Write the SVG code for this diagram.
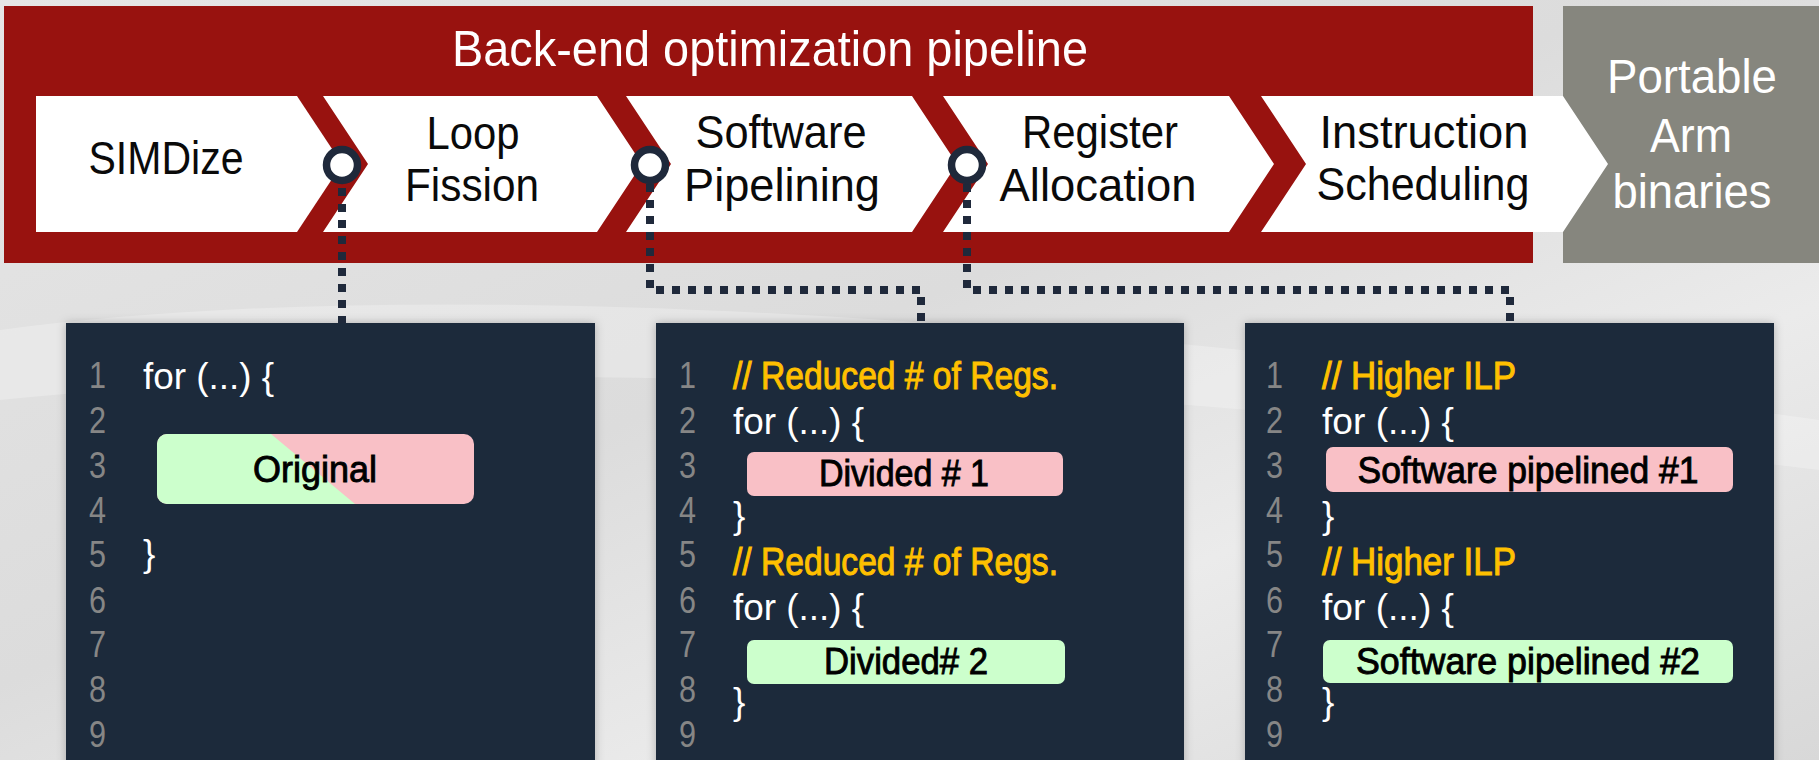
<svg xmlns="http://www.w3.org/2000/svg" width="1819" height="760" viewBox="0 0 1819 760">
<defs>
<linearGradient id="bg" x1="0" y1="0" x2="1" y2="1">
<stop offset="0" stop-color="#e6e6e6"/>
<stop offset="0.45" stop-color="#dcdcdc"/>
<stop offset="0.7" stop-color="#ebebeb"/>
<stop offset="1" stop-color="#d8d8d8"/>
</linearGradient>
<clipPath id="origclip">
<rect x="157" y="434" width="317" height="70" rx="10"/>
</clipPath>
<filter id="sh" x="-5%" y="-5%" width="110%" height="110%">
<feDropShadow dx="0" dy="0" stdDeviation="5" flood-color="#000" flood-opacity="0.25"/>
</filter>
<style>
.chev{fill:#ffffff}
.lbl{font-family:"Liberation Sans",Arial,sans-serif;font-size:46px;fill:#0a0a0a;text-anchor:middle}
.wt{font-family:"Liberation Sans",Arial,sans-serif;fill:#ffffff;text-anchor:middle}
.box{fill:#1f293b;filter:url(#sh)}
.num{font-family:"Liberation Sans",Arial,sans-serif;font-size:37px;fill:#868686}
.code{font-family:"Liberation Sans",Arial,sans-serif;font-size:37px;fill:#ffffff}
.cmt{font-family:"Liberation Sans",Arial,sans-serif;font-size:38px;fill:#ffc000;stroke:#ffc000;stroke-width:1}
.blk{font-family:"Liberation Sans",Arial,sans-serif;font-size:36px;fill:#000000;stroke:#000000;stroke-width:0.9;text-anchor:middle}
.dot{fill:none;stroke:#1f293b;stroke-width:8;stroke-dasharray:8 8}
.ring{fill:#ffffff;stroke:#1f293b;stroke-width:7.5}
</style>
</defs>
<rect x="0" y="0" width="1819" height="760" fill="url(#bg)"/>
<path d="M0 330 Q600 250 1819 420 L1819 470 Q700 330 0 400 Z" fill="#ffffff" opacity="0.25"/>

<g id="pipeline">
<rect x="4" y="6" width="1529" height="257" fill="#98120f"/>
<text class="wt" x="770" y="66" font-size="50" textLength="636" lengthAdjust="spacingAndGlyphs">Back-end optimization pipeline</text>
</g>
<g id="portable">
<rect x="1563" y="6" width="256" height="257" fill="#86867e"/>
</g>

<g id="simdize">
<polygon class="chev" points="36,96 297,96 342,164 297,232 36,232"/>
<text class="lbl" x="166" y="174" textLength="155" lengthAdjust="spacingAndGlyphs">SIMDize</text>
</g>
<g id="loop-fission">
<polygon class="chev" points="323,96 597,96 642,164 597,232 323,232 368,164"/>
<text class="lbl" x="473" y="149" textLength="93" lengthAdjust="spacingAndGlyphs">Loop</text>
<text class="lbl" x="472" y="201" textLength="134" lengthAdjust="spacingAndGlyphs">Fission</text>
</g>
<g id="software-pipelining">
<polygon class="chev" points="626,96 912,96 957,164 912,232 626,232 671,164"/>
<text class="lbl" x="781" y="148" textLength="171" lengthAdjust="spacingAndGlyphs">Software</text>
<text class="lbl" x="782" y="201" textLength="196" lengthAdjust="spacingAndGlyphs">Pipelining</text>
</g>
<g id="register-allocation">
<polygon class="chev" points="943,96 1229,96 1274,164 1229,232 943,232 988,164"/>
<text class="lbl" x="1100" y="148" textLength="156" lengthAdjust="spacingAndGlyphs">Register</text>
<text class="lbl" x="1098" y="201" textLength="197" lengthAdjust="spacingAndGlyphs">Allocation</text>
</g>
<g id="instruction-scheduling">
<polygon class="chev" points="1261,96 1563,96 1608,164 1563,232 1261,232 1306,164"/>
<text class="lbl" x="1424" y="148" textLength="209" lengthAdjust="spacingAndGlyphs">Instruction</text>
<text class="lbl" x="1423" y="200" textLength="213" lengthAdjust="spacingAndGlyphs">Scheduling</text>
</g>
<g id="portable-label">
<text class="wt" x="1692" y="93" font-size="48" textLength="170" lengthAdjust="spacingAndGlyphs">Portable</text>
<text class="wt" x="1691" y="152" font-size="48" textLength="82" lengthAdjust="spacingAndGlyphs">Arm</text>
<text class="wt" x="1692" y="208" font-size="48" textLength="159" lengthAdjust="spacingAndGlyphs">binaries</text>
</g>

<g id="code-original">
<rect class="box" x="66" y="323" width="529" height="450"/>
<g class="num">
<text x="89" y="388" textLength="17" lengthAdjust="spacingAndGlyphs">1</text>
<text x="89" y="433" textLength="17" lengthAdjust="spacingAndGlyphs">2</text>
<text x="89" y="478" textLength="17" lengthAdjust="spacingAndGlyphs">3</text>
<text x="89" y="523" textLength="17" lengthAdjust="spacingAndGlyphs">4</text>
<text x="89" y="567" textLength="17" lengthAdjust="spacingAndGlyphs">5</text>
<text x="89" y="613" textLength="17" lengthAdjust="spacingAndGlyphs">6</text>
<text x="89" y="657" textLength="17" lengthAdjust="spacingAndGlyphs">7</text>
<text x="89" y="702" textLength="17" lengthAdjust="spacingAndGlyphs">8</text>
<text x="89" y="747" textLength="17" lengthAdjust="spacingAndGlyphs">9</text>
</g>
<text class="code" x="143" y="389" textLength="131" lengthAdjust="spacingAndGlyphs">for (...) {</text>
<g clip-path="url(#origclip)">
<rect x="157" y="434" width="317" height="70" fill="#f9c0c6"/>
<polygon points="157,434 271,434 355,504 157,504" fill="#ccffcc"/>
</g>
<text class="blk" x="315" y="482" textLength="124" lengthAdjust="spacingAndGlyphs">Original</text>
<text class="code" x="143" y="566">}</text>
</g>

<g id="code-fission">
<rect class="box" x="656" y="323" width="528" height="450"/>
<g class="num">
<text x="679" y="388" textLength="17" lengthAdjust="spacingAndGlyphs">1</text>
<text x="679" y="433" textLength="17" lengthAdjust="spacingAndGlyphs">2</text>
<text x="679" y="478" textLength="17" lengthAdjust="spacingAndGlyphs">3</text>
<text x="679" y="523" textLength="17" lengthAdjust="spacingAndGlyphs">4</text>
<text x="679" y="567" textLength="17" lengthAdjust="spacingAndGlyphs">5</text>
<text x="679" y="613" textLength="17" lengthAdjust="spacingAndGlyphs">6</text>
<text x="679" y="657" textLength="17" lengthAdjust="spacingAndGlyphs">7</text>
<text x="679" y="702" textLength="17" lengthAdjust="spacingAndGlyphs">8</text>
<text x="679" y="747" textLength="17" lengthAdjust="spacingAndGlyphs">9</text>
</g>
<text class="cmt" x="733" y="389" textLength="325" lengthAdjust="spacingAndGlyphs">// Reduced # of Regs.</text>
<text class="code" x="733" y="434" textLength="131" lengthAdjust="spacingAndGlyphs">for (...) {</text>
<rect x="747" y="452" width="316" height="44" rx="7" fill="#f9c0c6"/>
<text class="blk" x="904" y="486" textLength="170" lengthAdjust="spacingAndGlyphs">Divided # 1</text>
<text class="code" x="733" y="528">}</text>
<text class="cmt" x="733" y="575" textLength="325" lengthAdjust="spacingAndGlyphs">// Reduced # of Regs.</text>
<text class="code" x="733" y="620" textLength="131" lengthAdjust="spacingAndGlyphs">for (...) {</text>
<rect x="747" y="640" width="318" height="44" rx="7" fill="#ccffcc"/>
<text class="blk" x="906" y="674" textLength="164" lengthAdjust="spacingAndGlyphs">Divided# 2</text>
<text class="code" x="733" y="714">}</text>
</g>

<g id="code-swp">
<rect class="box" x="1245" y="323" width="529" height="450"/>
<g class="num">
<text x="1266" y="388" textLength="17" lengthAdjust="spacingAndGlyphs">1</text>
<text x="1266" y="433" textLength="17" lengthAdjust="spacingAndGlyphs">2</text>
<text x="1266" y="478" textLength="17" lengthAdjust="spacingAndGlyphs">3</text>
<text x="1266" y="523" textLength="17" lengthAdjust="spacingAndGlyphs">4</text>
<text x="1266" y="567" textLength="17" lengthAdjust="spacingAndGlyphs">5</text>
<text x="1266" y="613" textLength="17" lengthAdjust="spacingAndGlyphs">6</text>
<text x="1266" y="657" textLength="17" lengthAdjust="spacingAndGlyphs">7</text>
<text x="1266" y="702" textLength="17" lengthAdjust="spacingAndGlyphs">8</text>
<text x="1266" y="747" textLength="17" lengthAdjust="spacingAndGlyphs">9</text>
</g>
<text class="cmt" x="1322" y="389" textLength="194" lengthAdjust="spacingAndGlyphs">// Higher ILP</text>
<text class="code" x="1322" y="434" textLength="132" lengthAdjust="spacingAndGlyphs">for (...) {</text>
<rect x="1326" y="447" width="407" height="45" rx="7" fill="#f9c0c6"/>
<text class="blk" x="1528" y="483" textLength="341" lengthAdjust="spacingAndGlyphs">Software pipelined #1</text>
<text class="code" x="1322" y="528">}</text>
<text class="cmt" x="1322" y="575" textLength="194" lengthAdjust="spacingAndGlyphs">// Higher ILP</text>
<text class="code" x="1322" y="620" textLength="132" lengthAdjust="spacingAndGlyphs">for (...) {</text>
<rect x="1323" y="640" width="410" height="43" rx="7" fill="#ccffcc"/>
<text class="blk" x="1528" y="674" textLength="344" lengthAdjust="spacingAndGlyphs">Software pipelined #2</text>
<text class="code" x="1322" y="714">}</text>
</g>

<g id="connectors">
<path class="dot" d="M342 188 V323"/>
<path class="dot" d="M650 184 V290 H921 V323"/>
<path class="dot" d="M967 184 V290 H1510 V323"/>
<circle class="ring" cx="342" cy="165" r="15.5"/>
<circle class="ring" cx="650" cy="165" r="15.5"/>
<circle class="ring" cx="967" cy="165" r="15.5"/>
</g>
</svg>
